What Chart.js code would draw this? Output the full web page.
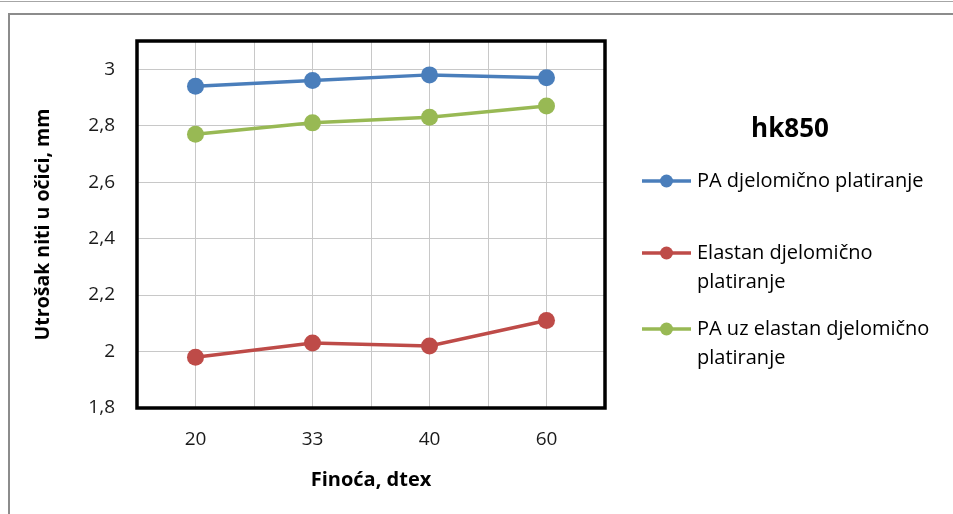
<!DOCTYPE html>
<html>
<head>
<meta charset="utf-8">
<title>hk850</title>
<script src="https://cdn.jsdelivr.net/npm/chart.js@4.4.1/dist/chart.umd.min.js"></script>
<style>
  html, body { margin: 0; padding: 0; background: #fff; }
  #wrap { position: relative; width: 953px; height: 514px; }
</style>
</head>
<body>
<div id="wrap"><canvas id="c" width="953" height="514"></canvas></div>
<script>
// Fineness categories (dtex)
const categories = ['20', '33', '40', '60'];

// Yarn consumption per loop, mm
const paPartial = [2.94, 2.96, 2.98, 2.97];
const elastanPartial = [1.98, 2.03, 2.02, 2.11];
const paWithElastanPartial = [2.77, 2.81, 2.83, 2.87];

const seriesLabels = [
  'PA djelomično platiranje',
  'Elastan djelomično platiranje',
  'PA uz elastan djelomično platiranje'
];
const seriesColors = ['#4A7EBB', '#BE4B48', '#98B954'];

const yTicks = [1.8, 2.0, 2.2, 2.4, 2.6, 2.8, 3.0];

const chartTitle = 'hk850';
const xTitle = 'Finoća, dtex';
const yTitle = 'Utrošak niti u očici, mm';

const FONT = '"Open Sans", Lato, sans-serif';

function fmt(v) {
  return String(Math.round(v * 10) / 10).replace('.', ',');
}

// Frame lines around the chart object
const framePlugin = {
  id: 'frame',
  beforeDraw(chart) {
    const ctx = chart.ctx;
    ctx.save();
    ctx.fillStyle = '#a6a6a6';
    ctx.fillRect(0, 1, 953, 1);
    ctx.fillStyle = '#8c8c8c';
    ctx.fillRect(8, 13, 945, 2);
    ctx.fillRect(8, 13, 2, 501);
    ctx.restore();
  }
};

// Thick black box around the plot area
const plotBorderPlugin = {
  id: 'plotBorder',
  beforeDatasetsDraw(chart) {
    const { left, top, right, bottom } = chart.chartArea;
    const ctx = chart.ctx;
    ctx.save();
    ctx.strokeStyle = '#000';
    ctx.lineWidth = 3.5;
    ctx.strokeRect(left, top, right - left, bottom - top);
    ctx.restore();
  }
};

// Title and legend on the right
const sideLegendPlugin = {
  id: 'sideLegend',
  afterDraw(chart) {
    const ctx = chart.ctx;
    ctx.save();
    ctx.fillStyle = '#000';
    ctx.font = 'bold 26px ' + FONT;
    ctx.textAlign = 'center';
    ctx.textBaseline = 'middle';
    ctx.fillText(chartTitle, 790, 130);

    const itemY = [181, 253, 329];
    const lineGap = 29;
    const textX = 697;
    const maxW = 252;
    ctx.font = '20px ' + FONT;
    ctx.textAlign = 'left';
    chart.data.datasets.forEach((ds, i) => {
      const y = itemY[i];
      ctx.strokeStyle = ds.borderColor;
      ctx.lineWidth = 3.5;
      ctx.beginPath();
      ctx.moveTo(642, y);
      ctx.lineTo(691, y);
      ctx.stroke();
      ctx.fillStyle = ds.backgroundColor;
      ctx.beginPath();
      ctx.arc(666.5, y, 6.5, 0, Math.PI * 2);
      ctx.fill();
      // wrap label to the legend width
      const words = ds.label.split(' ');
      const lines = [];
      let cur = '';
      words.forEach(w => {
        const t = cur ? cur + ' ' + w : w;
        if (ctx.measureText(t).width > maxW && cur) {
          lines.push(cur);
          cur = w;
        } else {
          cur = t;
        }
      });
      if (cur) lines.push(cur);
      ctx.fillStyle = '#000';
      lines.forEach((ln, k) => ctx.fillText(ln, textX, y + k * lineGap));
    });
    ctx.restore();
  }
};

const datasetValues = [paPartial, elastanPartial, paWithElastanPartial];

new Chart(document.getElementById('c'), {
  type: 'line',
  data: {
    labels: categories,
    datasets: datasetValues.map((vals, i) => ({
      label: seriesLabels[i],
      data: vals,
      borderColor: seriesColors[i],
      backgroundColor: seriesColors[i],
      pointBackgroundColor: seriesColors[i],
      pointBorderColor: seriesColors[i],
      borderWidth: 3.5,
      pointRadius: 8.5,
      pointBorderWidth: 0,
      tension: 0,
      xAxisID: 'x',
      yAxisID: 'y'
    }))
  },
  options: {
    responsive: false,
    animation: false,
    events: [],
    layout: { padding: { left: 0, top: 41, right: 348, bottom: 0 } },
    plugins: {
      legend: { display: false },
      title: { display: false },
      tooltip: { enabled: false }
    },
    scales: {
      x: {
        type: 'category',
        offset: true,
        position: 'bottom',
        grid: { color: '#c8c8c8', lineWidth: 1, offset: false, drawTicks: false },
        border: { display: false },
        ticks: { color: '#1a1a1a', font: { family: FONT, size: 19 }, padding: 20, maxRotation: 0 },
        title: {
          display: true,
          text: xTitle,
          color: '#000',
          font: { family: FONT, size: 20, weight: 'bold' },
          padding: { top: 0, bottom: 22 }
        },
        afterFit(s) { s.height = 106; }
      },
      x2: {
        type: 'category',
        offset: true,
        position: 'top',
        grid: { color: '#c8c8c8', lineWidth: 1, offset: true, drawTicks: false },
        border: { display: false },
        ticks: { display: false },
        afterFit(s) { s.height = 0; }
      },
      y: {
        type: 'linear',
        min: 1.8,
        max: 3.1,
        grid: { color: '#c8c8c8', lineWidth: 1, drawTicks: false },
        border: { display: false },
        afterBuildTicks(s) { s.ticks = yTicks.map(v => ({ value: v })); },
        ticks: {
          color: '#1a1a1a',
          font: { family: FONT, size: 19 },
          padding: 22,
          callback: (v) => fmt(v)
        },
        title: {
          display: true,
          text: yTitle,
          color: '#000',
          font: { family: FONT, size: 19.5, weight: 'bold' },
          padding: { top: 32, bottom: 0 }
        },
        afterFit(s) { s.width = 137; }
      }
    }
  },
  plugins: [framePlugin, plotBorderPlugin, sideLegendPlugin]
});
</script>
</body>
</html>
